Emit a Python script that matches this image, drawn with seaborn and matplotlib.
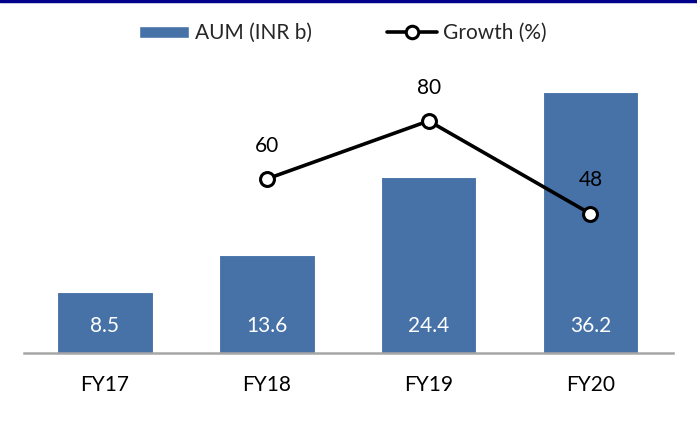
import matplotlib
matplotlib.use("Agg")
import matplotlib.pyplot as plt
import seaborn as sns
import pandas as pd
from matplotlib.lines import Line2D
from matplotlib.patches import Patch

years = ["FY17", "FY18", "FY19", "FY20"]
aum = [8.5, 13.6, 24.4, 36.2]
growth_years = ["FY18", "FY19", "FY20"]
growth = [60, 80, 48]

sns.set_theme(style="white")
plt.rcParams['font.family'] = ['Lato', 'DejaVu Sans']

bar_color = "#4672A8"
FS = 15

fig = plt.figure(figsize=(6.97, 4.23), dpi=100)
W, H = 697, 423
ax = fig.add_axes([24 / W, (H - 353) / H, (673 - 24) / W, (353 - 60) / H])

df = pd.DataFrame({"year": years, "aum": aum})
sns.barplot(data=df, x="year", y="aum", color=bar_color, width=0.59, ax=ax,
            saturation=1, edgecolor="white", linewidth=0.8)
ax.set_ylim(0, 40.6)

for i, v in enumerate(aum):
    ax.text(i, 3.7, f"{v}", ha="center", va="center", color="white", fontsize=FS)

ax2 = ax.twinx()
gdf = pd.DataFrame({"x": [years.index(y) for y in growth_years], "g": growth})
sns.lineplot(data=gdf, x="x", y="g", ax=ax2, color="black", linewidth=2.6,
             marker="o", markersize=10, markerfacecolor="white",
             markeredgecolor="black", markeredgewidth=2.2)
ax2.set_ylim(0, 101)
for xv, gv in zip(gdf["x"], growth):
    ax2.annotate(f"{gv}", (xv, gv), xytext=(0, 24), textcoords="offset points",
                 ha="center", va="center", fontsize=FS, color="black")

for a in (ax, ax2):
    for s in a.spines.values():
        s.set_visible(False)
    a.set_yticks([])
    a.set_ylabel("")
    a.set_xlabel("")
ax.spines["bottom"].set_visible(True)
ax.spines["bottom"].set_color("#A6A6A6")
ax.spines["bottom"].set_linewidth(1.8)
ax.set_xlim(-0.5, 3.51)
ax.set_xticks(range(len(years)))
ax.set_xticklabels(years, fontsize=FS, color="black")
ax.tick_params(axis="x", length=0, pad=16, labelbottom=True)
ax2.tick_params(axis="x", labelbottom=False, labeltop=False, length=0)

# top rule
fig.add_artist(Line2D([0, 1], [1 - 1.5 / H, 1 - 1.5 / H], color="#00008B",
                      linewidth=2.5, transform=fig.transFigure))

handles = [Patch(facecolor=bar_color, edgecolor="white"),
           Line2D([0], [0], color="black", linewidth=2.6, marker="o", markersize=9,
                  markerfacecolor="white", markeredgecolor="black", markeredgewidth=2.2)]
fig.legend(handles, ["AUM (INR b)", "Growth (%)"], loc="center",
           bbox_to_anchor=(343 / W, 1 - 33 / H), ncol=2, frameon=False,
           fontsize=FS, handlelength=2.4, handletextpad=0.3, columnspacing=3.6,
           handleheight=0.5)

fig.savefig("out.png", dpi=100)
